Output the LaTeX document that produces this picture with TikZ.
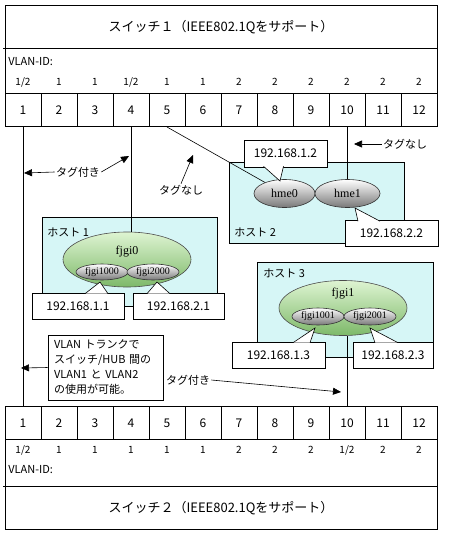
\documentclass[tikz,border=0pt]{standalone}
\usepackage{fontspec}
\setmainfont{Noto Sans CJK JP}
\newfontfamily\nicfont{Liberation Serif}
\usetikzlibrary{shapes.geometric,arrows.meta,calc}
\definecolor{hostbg}{RGB}{214,246,246}
\definecolor{niclight}{RGB}{222,244,210}
\definecolor{nicdark}{RGB}{125,185,105}
\definecolor{vlangray}{RGB}{120,120,120}
\tikzset{
  port/.style={draw, line width=1pt, minimum width=36pt, minimum height=33pt, inner sep=0pt, font=\fontsize{12}{12}\selectfont},
  vid/.style={inner sep=0pt, font=\fontsize{10}{10}\selectfont},
  hostbox/.style={draw, fill=hostbg, anchor=north west, inner sep=0pt},
  hostlbl/.style={anchor=west, inner sep=0pt, font=\fontsize{11}{11}\selectfont},
  bignic/.style={ellipse, draw=black!70, top color=niclight, bottom color=nicdark, minimum width=128pt, minimum height=55pt, inner sep=0pt},
  nic/.style={ellipse, draw=black!80, top color=white, bottom color=vlangray, inner sep=0pt, font=\nicfont\fontsize{10}{10}\selectfont},
  ipbox/.style={draw, fill=white, minimum height=26pt, inner sep=0pt, font=\fontsize{12}{12}\selectfont},
  tagtxt/.style={inner sep=1pt, font=\fontsize{11}{11}\selectfont},
  tagarrow/.style={-{Triangle[length=8pt,width=7pt]}},
}
\begin{document}
\begin{tikzpicture}[x=1pt, y=-1pt, line width=0.6pt]
  \useasboundingbox (0,0) rectangle (448,533);

  % Switch 1
  \draw (5,5) rectangle (437,126);
  \draw (3,48) -- (437,48);
  \node[font=\fontsize{13}{13}\selectfont] (sw1) at (221,27) {スイッチ１（IEEE802.1Qをサポート）};
  \node[vid, anchor=west, font=\fontsize{11}{11}\selectfont] (sw1id) at (8,62) {VLAN-ID:};
  \foreach \v [count=\i] in {{1/2},1,1,{1/2},1,1,2,2,2,2,2,2}
    \node[vid] (ta\i) at ({5+36*\i-18},82) {\v};
  \foreach \i in {1,...,12}
    \node[port] (a\i) at ({5+36*\i-18},110) {\i};

  % Switch 2
  \draw (5,406) rectangle (437,529);
  \draw (3,486) -- (437,486);
  \node[font=\fontsize{13}{13}\selectfont] (sw2) at (221,508) {スイッチ２（IEEE802.1Qをサポート）};
  \node[vid, anchor=west, font=\fontsize{11}{11}\selectfont] (sw2id) at (8,470) {VLAN-ID:};
  \foreach \v [count=\i] in {{1/2},1,1,1,1,1,2,2,2,{1/2},2,2}
    \node[vid] (tb\i) at ({5+36*\i-18},450) {\v};
  \foreach \i in {1,...,12}
    \node[port] (b\i) at ({5+36*\i-18},423) {\i};

  % Hosts
  \node[hostbox, minimum width=175pt, minimum height=89pt] (host1) at (42,217) {};
  \node[hostbox, minimum width=175pt, minimum height=81pt] (host2) at (229,162) {};
  \node[hostbox, minimum width=176pt, minimum height=95pt] (host3) at (257,262) {};
  \node[hostlbl] (host1lbl) at ($(host1.north west)+(5,15)$) {ホスト 1};
  \node[hostlbl] (host2lbl) at ($(host2.north west)+(5,70)$) {ホスト 2};
  \node[hostlbl] (host3lbl) at ($(host3.north west)+(6,11)$) {ホスト 3};

  % Interfaces
  \node[bignic] (fjgi0) at (127,259.5) {};
  \node[inner sep=0pt, font=\nicfont\fontsize{12}{12}\selectfont] (fjgi0lbl) at (127,252) {fjgi0};
  \node[nic, minimum width=52pt, minimum height=16pt] (fjgi1000) at (102,272) {fjgi1000};
  \node[nic, minimum width=52pt, minimum height=16pt] (fjgi2000) at (153,272) {fjgi2000};

  \node[bignic] (fjgi1) at (343,308) {};
  \node[inner sep=0pt, font=\nicfont\fontsize{12}{12}\selectfont] (fjgi1lbl) at (343,294) {fjgi1};
  \node[nic, minimum width=52pt, minimum height=17pt] (fjgi1001) at (318,316.5) {fjgi1001};
  \node[nic, minimum width=52pt, minimum height=17pt] (fjgi2001) at (370,316.5) {fjgi2001};

  \node[nic, minimum width=61pt, minimum height=28pt, font=\nicfont\fontsize{12}{12}\selectfont] (hme0) at (284.5,193.5) {hme0};
  \node[nic, minimum width=65pt, minimum height=28pt, font=\nicfont\fontsize{12}{12}\selectfont] (hme1) at (347.5,193.5) {hme1};

  % Cables
  \draw (a1.south) -- (b1.north);
  \draw (a4.south) -- (a4.south |- fjgi0.north);
  \draw (a5.south) -- (hme0);
  \draw (a10.south) -- (a10.south |- hme1.north);
  \draw (b10.north) -- (b10.north |- fjgi1.south);

  % Addresses
  \node[ipbox, minimum width=92pt] (ip11) at (78,306) {192.168.1.1};
  \node[ipbox, minimum width=91pt] (ip21) at (178.5,306) {192.168.2.1};
  \node[ipbox, minimum width=83pt, minimum height=27pt] (ip12) at (285.5,153.5) {192.168.1.2};
  \node[ipbox, minimum width=93pt] (ip22) at (391.5,233.5) {192.168.2.2};
  \node[ipbox, minimum width=93pt] (ip13) at (278.5,355) {192.168.1.3};
  \node[ipbox, minimum width=80pt] (ip23) at (393,355) {192.168.2.3};

  \coordinate (t11) at (100,282);
  \coordinate (t21) at (157,282);
  \coordinate (t12) at (280,181);
  \coordinate (t22) at (355,208);
  \coordinate (t13) at (315,328);
  \coordinate (t23) at (370,328);
  \draw[fill=white] ($(ip11.north)+(7,1)$) -- (t11) -- ($(ip11.north)+(30,1)$);
  \draw[fill=white] ($(ip21.north)+(-31.5,1)$) -- (t21) -- ($(ip21.north)+(-8.5,1)$);
  \draw[fill=white] ($(ip12.south)+(-22,-1)$) -- (t12) -- ($(ip12.south)+(-2,-1)$);
  \draw[fill=white] ($(ip22.north)+(-33.5,1)$) -- (t22) -- ($(ip22.north)+(-11.5,1)$);
  \draw[fill=white] ($(ip13.north)+(14.5,1)$) -- (t13) -- ($(ip13.north)+(31.5,1)$);
  \draw[fill=white] ($(ip23.north)+(-18,1)$) -- (t23) -- ($(ip23.north)+(5,1)$);

  % Tags
  \node[tagtxt] (tag1) at (78,172) {タグ付き};
  \coordinate (tag1l) at (24,173);
  \coordinate (tag1r) at (129,156);
  \draw[tagarrow] (tag1.west) -- (tag1l);
  \draw[tagarrow] (tag1.east) -- (tag1r);

  \node[tagtxt] (notag1) at (181,190) {タグなし};
  \coordinate (notag1t) at (193,155);
  \draw[tagarrow] (notag1.north) -- (notag1t);

  \node[tagtxt] (notag2) at (405,144) {タグなし};
  \coordinate (notag2t) at (354,144);
  \draw[tagarrow] (notag2.west) -- (notag2t);

  \node[tagtxt] (tag2) at (188,380) {タグ付き};
  \coordinate (tag2t) at (341,392);
  \draw[tagarrow] (tag2.east) -- (tag2t);

  % Trunk note
  \node[draw, fill=white, minimum width=115pt, minimum height=65pt, text width=103pt, align=left, inner sep=0pt, font=\fontsize{11}{15}\selectfont] (trunk) at (105.5,367.5) {VLAN トランクで\\スイッチ/HUB 間の\\VLAN1 と VLAN2\\の使用が可能。};
  \coordinate (trunkt) at (21,368);
  \draw[tagarrow] (trunk.west) -- (trunkt);
\end{tikzpicture}
\end{document}
